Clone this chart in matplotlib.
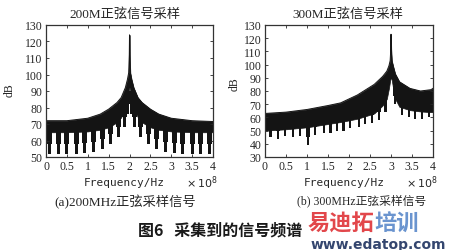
import numpy as np
import matplotlib.pyplot as plt

# ---- data (frequency in units of 1e8 Hz, level in dB) ----
# (a) 200 MHz sine: upper envelope and lower edge of the dense body
a_freq = [0, 0.5, 1.0, 1.3, 1.5, 1.7, 1.8, 1.9, 1.95, 1.98, 1.995, 2.0,
          2.005, 2.02, 2.05, 2.1, 2.2, 2.3, 2.5, 2.7, 3.0, 3.5, 4.0]
a_top = [72, 72, 73.5, 76, 79, 83, 86, 92, 97, 101, 112, 124,
         112, 101, 97, 92, 86, 83, 79, 76, 73.5, 72, 71.5]
a_low = [65, 65, 65.5, 66.5, 68, 71, 74, 80, 86, 90, 92, 92,
         92, 90, 86, 80, 74, 71, 68, 66.5, 65.5, 65, 65]
# downward "teeth" of the comb
a_teeth_f = [0.08, 0.3, 0.5, 0.72, 0.93, 1.14, 1.35, 1.55, 1.73, 1.87, 1.95,
             2.05, 2.13, 2.27, 2.45, 2.65, 2.86, 3.07, 3.28, 3.5, 3.7, 3.92]
a_teeth_db = [52, 52, 52, 52, 52.5, 53, 55, 58, 62, 68, 76,
              76, 68, 62, 58, 55, 53, 52.5, 52, 52, 52, 52]

# (b) 300 MHz sine
b_freq = [0, 0.5, 1.0, 1.5, 1.8, 2.2, 2.6, 2.8, 2.9, 2.95, 2.98, 2.995, 3.0,
          3.005, 3.02, 3.05, 3.1, 3.2, 3.45, 3.7, 3.95, 4.0]
b_top = [63, 64, 66, 69, 71, 77, 85, 91, 95, 99, 103, 112, 123,
         112, 103, 99, 93, 87, 82, 80, 81, 82]
b_low = [50, 51, 52.5, 55, 56.5, 59, 63, 69, 74, 82, 88, 90, 90,
         90, 88, 82, 74, 68, 65.5, 64.5, 64, 64]
b_teeth_f = [0.13, 0.31, 0.48, 0.66, 0.84, 1.02, 1.2, 1.4, 1.56, 1.71, 1.87, 2.03,
             2.23, 2.39, 2.55, 2.71, 2.87, 3.1, 3.26, 3.42, 3.58, 3.74, 3.9]
b_teeth_db = [45, 44, 46, 45, 46, 39, 47, 48, 48, 50, 50, 52,
              53, 55, 56, 58, 64, 70, 62, 60, 59, 59, 60]

x_ticks = [0, 0.5, 1, 1.5, 2, 2.5, 3, 3.5, 4]
x_tick_labels = ['0', '0.5', '1', '1.5', '2', '2.5', '3', '3.5', '4']

INK = '#141414'
TXT = '#262626'
SERIF = ['Liberation Serif', 'Noto Sans CJK SC']
CJK = ['Noto Sans CJK SC', 'Liberation Serif']

plt.rcParams['font.family'] = SERIF

W, H = 450, 251
fig = plt.figure(figsize=(W / 100, H / 100), dpi=100)


def fx(x):
    return x / W


def fy(y):
    return 1 - y / H


def draw_spectrum(ax, f, top, low, teeth_f, teeth_db, tooth_w, ylim, yticks):
    ax.fill_between(f, low, top, color=INK, lw=0.5, edgecolor=INK)
    ax.plot(f, top, color=INK, lw=0.7)
    n = len(teeth_f)
    # teeth overlap into the body by a fixed amount; wider near the body
    ax.bar(teeth_f, [14] * n, bottom=teeth_db, width=tooth_w,
           color=INK, lw=0)
    ax.bar(teeth_f, [8] * n, bottom=[d + 6 for d in teeth_db],
           width=tooth_w * 1.7, color=INK, lw=0)
    ax.set_xlim(0, 4)
    ax.set_ylim(*ylim)
    ax.set_xticks(x_ticks)
    ax.set_xticklabels(x_tick_labels)
    ax.set_yticks(yticks)
    ax.tick_params(direction='in', top=True, right=True, length=2.5, width=0.6,
                   labelsize=8.5, pad=2.5, colors=TXT)
    for s in ax.spines.values():
        s.set_linewidth(0.9)
        s.set_color('#333333')


ax1 = fig.add_axes([fx(46), fy(158), 167 / W, 132 / H])
draw_spectrum(ax1, a_freq, a_top, a_low, a_teeth_f, a_teeth_db, 0.07,
              (50, 130), range(50, 131, 10))

ax2 = fig.add_axes([fx(265), fy(158), 168 / W, 132 / H])
draw_spectrum(ax2, b_freq, b_top, b_low, b_teeth_f, b_teeth_db, 0.05,
              (30, 130), range(30, 131, 10))

# titles
fig.text(fx(125), fy(15), '200M正弦信号采样', ha='center', va='center',
         fontsize=9.5, color=TXT, family=SERIF)
fig.text(fx(348), fy(15), '300M正弦信号采样', ha='center', va='center',
         fontsize=9.5, color=TXT, family=SERIF)

# y labels
fig.text(fx(10), fy(90), 'dB', rotation=90, ha='center', va='center',
         fontsize=8.5, color=TXT)
fig.text(fx(235), fy(84), 'dB', rotation=90, ha='center', va='center',
         fontsize=8.5, color=TXT)

# x labels and multipliers
for cx, mx in [(124, 202), (344, 422)]:
    fig.text(fx(cx), fy(183), 'Frequency/Hz', ha='center', va='center',
             fontsize=8, color=TXT, family='DejaVu Sans Mono')
    fig.text(fx(mx), fy(183), r'$\times\,10^8$', ha='center', va='center',
             fontsize=8, color=TXT)

# sub captions
fig.text(fx(125), fy(202), '(a)200MHz正弦采样信号', ha='center', va='center',
         fontsize=9.5, color=TXT, family=SERIF)
fig.text(fx(362), fy(201), '(b) 300MHz正弦采样信号', ha='center', va='center',
         fontsize=8.5, color=TXT, family=SERIF)

# figure caption
fig.text(fx(220), fy(230), '图6   采集到的信号频谱', ha='center', va='center',
         fontsize=11.5, color='#1a1a1a', family=CJK, weight='bold')

# site logo in the corner
fig.text(fx(308), fy(224), '易迪拓', ha='left', va='center', fontsize=16,
         color='#e2474b', family=CJK, weight='bold')
fig.text(fx(374), fy(224), '培训', ha='left', va='center', fontsize=16,
         color='#6a94cf', family=CJK, weight='bold')
fig.text(fx(446), fy(245), 'www.edatop.com', ha='right', va='center',
         fontsize=10, color='#34466f', family='DejaVu Sans', weight='bold')

fig.savefig('out.png', dpi=100)
